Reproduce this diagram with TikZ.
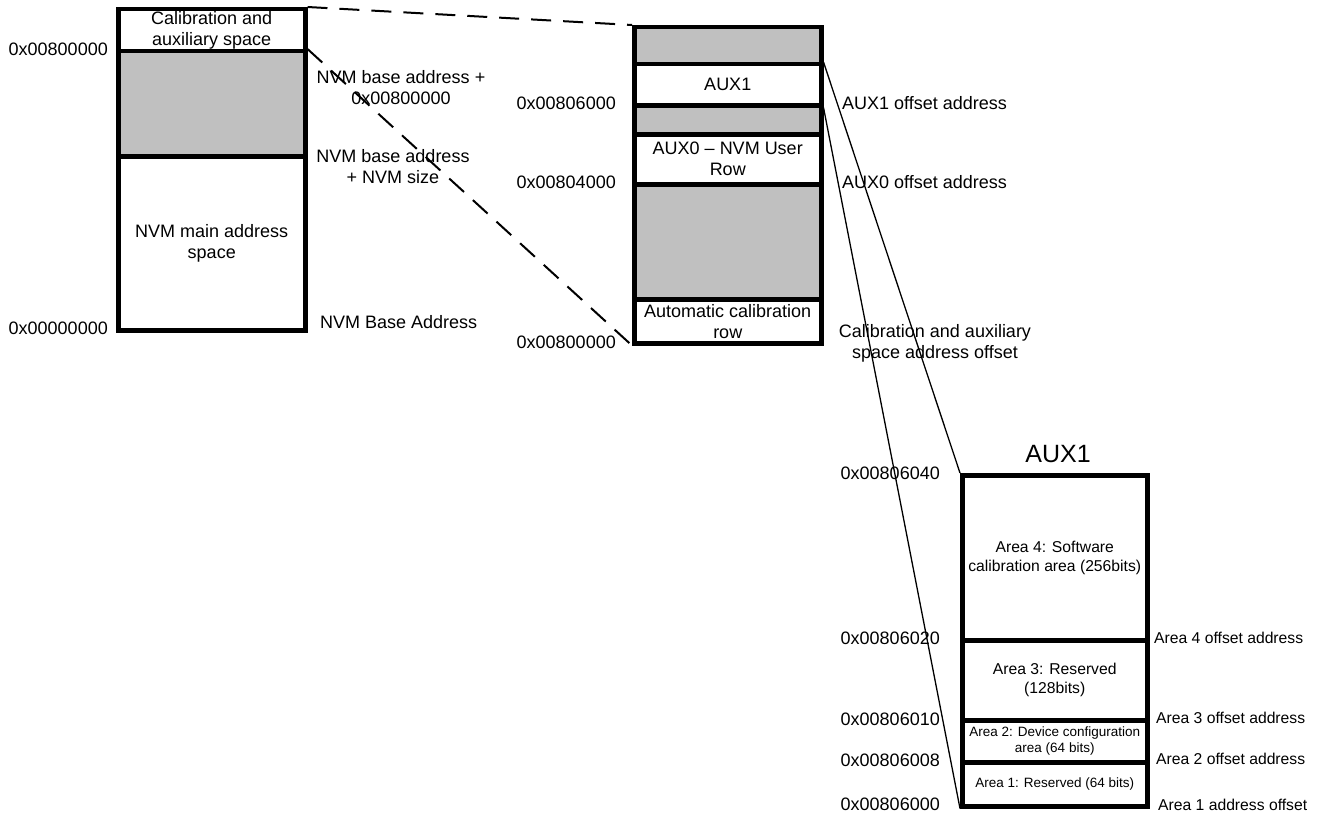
\documentclass[tikz,border=0pt]{standalone}
\usepackage{fontspec}
\setmainfont{Liberation Sans}
\definecolor{memgray}{RGB}{192,192,192}
\begin{document}
\begin{tikzpicture}[x=1pt,y=-1pt,
  seg/.style={draw=black, line width=4.5pt, inner sep=0pt, align=center, anchor=north west, fill=white},
  grayseg/.style={seg, fill=memgray},
  big/.style={font=\fontsize{18}{21}\selectfont},
  mid/.style={font=\fontsize{15.7}{19}\selectfont},
  small/.style={font=\fontsize{13.5}{16}\selectfont},
  lbl/.style={big, inner sep=0pt, align=center},
  zoomdash/.style={line width=2pt, dash pattern=on 20pt off 12pt},
  zoomline/.style={line width=1.3pt}]
\useasboundingbox (0,0) rectangle (1326,816);

% ---- Box 1 ----
\node[seg, big, minimum width=187pt, minimum height=42pt] (b1cal) at (116,7) {Calibration and\\auxiliary space};
\node[grayseg, minimum width=187pt, minimum height=105pt] (b1gray) at (116,49) {};
\node[seg, big, minimum width=187pt, minimum height=174pt] (b1main) at (116,154) {NVM main address\\space};

\node[lbl, anchor=east] (l1a) at (108,49) {0x00800000};
\node[lbl, anchor=east] (l1b) at (108,328) {0x00000000};
\node[lbl] (r1a) at (401,88) {NVM base address +\\0x00800000};
\node[lbl] (r1b) at (393,167) {NVM base address\\+ NVM size};
\node[lbl, anchor=west] (r1c) at (320,322) {NVM Base Address};

% ---- Box 2 ----
\node[grayseg, minimum width=187pt, minimum height=37pt] (b2top) at (632,25) {};
\node[seg, big, minimum width=187pt, minimum height=41pt] (b2aux1) at (632,62) {AUX1};
\node[grayseg, minimum width=187pt, minimum height=29pt] (b2g2) at (632,103) {};
\node[seg, big, minimum width=187pt, minimum height=50pt] (b2aux0) at (632,132) {AUX0 – NVM User\\Row};
\node[grayseg, minimum width=187pt, minimum height=115pt] (b2g3) at (632,182) {};
\node[seg, big, minimum width=187pt, minimum height=44pt] (b2auto) at (632,297) {Automatic calibration\\row};

\node[lbl, anchor=east] (l2a) at (616,103) {0x00806000};
\node[lbl, anchor=east] (l2b) at (616,182) {0x00804000};
\node[lbl, anchor=east] (l2c) at (616,342) {0x00800000};
\node[lbl, anchor=west] (r2a) at (842,103) {AUX1 offset address};
\node[lbl, anchor=west] (r2b) at (842,182) {AUX0 offset address};
\node[lbl] (r2c) at (935,343) {Calibration and auxiliary\\space address offset};

% ---- Box 3 ----
\node[font=\fontsize{25}{28}\selectfont, inner sep=0pt] (t3) at (1058,454) {AUX1};
\node[seg, mid, minimum width=185pt, minimum height=165pt] (b3a4) at (960,473) {Area 4: Software\\calibration area (256bits)};
\node[seg, mid, minimum width=185pt, minimum height=80pt] (b3a3) at (960,638) {Area 3: Reserved\\(128bits)};
\node[seg, small, minimum width=185pt, minimum height=42pt] (b3a2) at (960,718) {Area 2: Device configuration\\area (64 bits)};
\node[seg, small, minimum width=185pt, minimum height=44pt] (b3a1) at (960,760) {Area 1: Reserved (64 bits)};

\node[lbl, anchor=east] (l3a) at (940,473) {0x00806040};
\node[lbl, anchor=east] (l3b) at (940,638) {0x00806020};
\node[lbl, anchor=east] (l3c) at (940,719) {0x00806010};
\node[lbl, anchor=east] (l3d) at (940,760) {0x00806008};
\node[lbl, anchor=east] (l3e) at (940,804) {0x00806000};
\node[lbl, mid, anchor=west] (r3a) at (1154,638) {Area 4 offset address};
\node[lbl, mid, anchor=west] (r3b) at (1156,718) {Area 3 offset address};
\node[lbl, mid, anchor=west] (r3c) at (1156,759) {Area 2 offset address};
\node[lbl, mid, anchor=west] (r3d) at (1158,805) {Area 1 address offset};

% ---- Connectors ----
\draw[zoomdash] (b1cal.north east) -- (b2top.north west);
\draw[zoomdash] (b1gray.north east) -- (b2auto.south west);
\draw[zoomline] (b2aux1.north east) -- (b3a4.north west);
\draw[zoomline] (b2aux1.south east) -- (b3a1.south west);
\end{tikzpicture}
\end{document}
